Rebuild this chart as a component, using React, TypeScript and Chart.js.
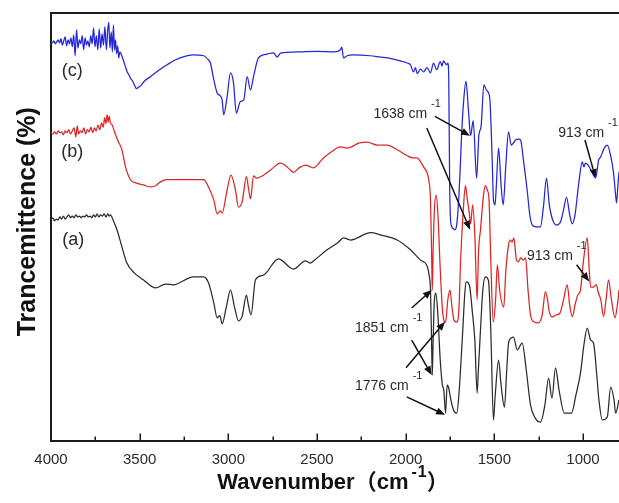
import React, { useEffect, useRef } from 'react';
import { Chart, registerables } from 'chart.js';

Chart.register(...registerables);

// ---- axis data ----
const X_MIN = 797;
const X_MAX = 4000;
const X_TICKS = [4000, 3500, 3000, 2500, 2000, 1500, 1000];
const X_MINOR_TICKS = [3750, 3250, 2750, 2250, 1750, 1250];
const Y_MIN = 0;
const Y_MAX = 100;

// ---- spectra: [wavenumber (cm-1), transmittance (offset, a.u.)] ----
const SERIES_C: [number, number][] = [
  [4000, 93.2], [3992, 93.0], [3984, 93.5], [3976, 92.8], [3968, 93.2], [3960, 93.7], [3952, 93.0], [3944, 94.0],
  [3936, 92.5], [3928, 93.5], [3920, 94.4], [3912, 92.3], [3904, 93.7], [3896, 92.8], [3888, 94.2], [3880, 92.1],
  [3872, 94.9], [3864, 90.0], [3856, 96.1], [3848, 91.8], [3840, 93.7], [3832, 92.8], [3824, 94.7], [3816, 91.4],
  [3808, 94.2], [3800, 92.5], [3792, 93.5], [3784, 92.1], [3776, 94.7], [3768, 92.8], [3760, 96.5], [3752, 92.1],
  [3744, 94.7], [3736, 91.4], [3728, 96.3], [3720, 91.8], [3712, 95.1], [3704, 92.5], [3696, 96.8], [3688, 91.4],
  [3680, 96.1], [3674, 97.8], [3668, 91.8], [3660, 95.6], [3654, 90.9], [3648, 97.2], [3642, 91.4], [3636, 93.7],
  [3630, 90.5], [3624, 92.3], [3618, 89.5], [3612, 90.9], [3600, 89.9], [3590, 88.7], [3580, 87.4], [3570, 86.2],
  [3560, 85.5], [3550, 84.6], [3540, 84.1], [3530, 83.2], [3518, 82.3], [3505, 82.7], [3496, 82.9], [3470, 84.2],
  [3439, 85.1], [3400, 86.4], [3345, 87.9], [3300, 89.0], [3250, 89.8], [3200, 90.2], [3139, 90.0], [3112, 89.0],
  [3101, 88.3], [3082, 84.4], [3063, 81.3], [3045, 80.6], [3035, 79.7], [3026, 76.2], [3007, 80.4], [2988, 86.0],
  [2971, 83.7], [2955, 76.6], [2932, 79.3], [2913, 79.7], [2894, 85.1], [2875, 82.0], [2858, 85.1], [2830, 89.5],
  [2781, 90.4], [2745, 90.7], [2725, 89.7], [2706, 90.6], [2600, 90.9], [2500, 91.0], [2400, 90.9], [2368, 91.4],
  [2360, 92.0], [2351, 89.5], [2330, 90.0], [2300, 90.2], [2200, 90.0], [2142, 89.7], [2100, 89.5], [2048, 89.0],
  [2012, 88.6], [1991, 88.3], [1973, 87.9], [1956, 86.2], [1945, 87.2], [1935, 85.8], [1916, 86.9], [1899, 86.2],
  [1880, 87.2], [1860, 86.0], [1843, 88.3], [1825, 86.7], [1805, 88.6], [1795, 87.6], [1787, 88.8], [1770, 87.9],
  [1762, 88.3], [1757, 84.4], [1752, 60.0], [1748, 52.5], [1740, 50.0], [1730, 49.5], [1722, 49.3], [1712, 50.5],
  [1700, 57.0], [1690, 66.0], [1684, 72.0], [1672, 80.0], [1660, 84.0], [1646, 77.3], [1634, 71.3], [1619, 74.8],
  [1600, 61.4], [1587, 71.5], [1575, 73.4], [1559, 83.2], [1545, 82.0], [1535, 81.5], [1525, 79.7], [1512, 65.6],
  [1505, 56.3], [1496, 55.1], [1490, 58.6], [1476, 68.4], [1462, 59.8], [1450, 55.1], [1435, 64.5], [1420, 72.2],
  [1405, 69.1], [1392, 69.6], [1381, 70.3], [1365, 70.5], [1352, 70.3], [1336, 65.6], [1315, 58.6], [1300, 52.8],
  [1286, 50.4], [1265, 50.0], [1240, 50.0], [1222, 55.1], [1206, 61.4], [1190, 55.1], [1173, 51.8], [1150, 50.4],
  [1127, 51.1], [1110, 53.9], [1093, 56.9], [1075, 52.8], [1061, 50.7], [1045, 52.8], [1025, 59.8], [1004, 65.2],
  [995, 64.0], [986, 64.9], [969, 64.3], [950, 62.8], [929, 61.4], [912, 65.6], [901, 66.3], [880, 68.4],
  [863, 69.1], [845, 66.8], [828, 62.6], [816, 57.4], [811, 55.6], [803, 59.8], [797, 62.8],
];

const SERIES_B: [number, number][] = [
  [4000, 72.0], [3990, 71.7], [3980, 72.2], [3970, 71.7], [3960, 72.4], [3950, 72.0], [3940, 72.2], [3930, 71.5],
  [3920, 72.4], [3910, 72.0], [3900, 72.7], [3890, 71.7], [3880, 72.4], [3870, 73.1], [3860, 71.0], [3852, 73.6],
  [3845, 71.7], [3835, 72.4], [3825, 72.0], [3815, 73.1], [3805, 71.7], [3795, 72.7], [3785, 72.2], [3775, 73.3],
  [3765, 72.0], [3755, 73.1], [3745, 72.4], [3735, 73.8], [3725, 72.7], [3715, 74.3], [3705, 73.3], [3698, 75.5],
  [3690, 74.1], [3684, 76.2], [3678, 74.5], [3672, 75.9], [3665, 74.3], [3655, 73.8], [3640, 72.0], [3620, 69.9],
  [3600, 68.0], [3580, 64.0], [3552, 61.0], [3518, 60.2], [3480, 59.8], [3439, 59.3], [3410, 59.6], [3383, 60.5],
  [3345, 61.0], [3300, 61.0], [3200, 61.0], [3139, 61.0], [3112, 59.3], [3082, 56.3], [3063, 53.0], [3045, 53.7],
  [3035, 53.2], [3007, 58.6], [2985, 62.1], [2960, 58.6], [2943, 54.6], [2922, 55.8], [2898, 61.7], [2885, 58.6],
  [2875, 56.5], [2858, 61.9], [2840, 61.4], [2817, 61.7], [2762, 63.3], [2706, 64.9], [2650, 63.3], [2633, 62.7],
  [2600, 63.8], [2565, 64.4], [2537, 64.0], [2520, 63.8], [2464, 66.1], [2420, 67.5], [2368, 68.7], [2330, 68.4],
  [2260, 69.6], [2217, 69.8], [2160, 69.1], [2104, 69.1], [2048, 68.0], [1991, 66.6], [1960, 66.1], [1935, 66.1],
  [1916, 65.2], [1899, 64.0], [1879, 62.6], [1868, 60.5], [1860, 56.3], [1853, 42.2], [1850, 35.2], [1845, 44.6],
  [1838, 53.9], [1828, 57.4], [1818, 52.8], [1805, 40.0], [1790, 29.4], [1775, 27.7], [1762, 33.0], [1750, 35.2],
  [1740, 31.7], [1728, 28.2], [1712, 27.7], [1700, 30.5], [1690, 42.2], [1675, 53.9], [1663, 59.6], [1652, 56.3],
  [1640, 52.8], [1634, 50.7], [1622, 55.1], [1610, 48.1], [1597, 32.9], [1589, 44.3], [1578, 49.3], [1561, 57.4],
  [1550, 59.6], [1540, 58.6], [1530, 56.3], [1520, 42.2], [1506, 27.7], [1493, 32.9], [1483, 41.1], [1470, 35.2],
  [1447, 31.2], [1435, 39.8], [1420, 45.7], [1410, 46.9], [1400, 46.4], [1390, 47.4], [1375, 42.2], [1364, 41.8],
  [1352, 42.7], [1336, 42.2], [1324, 42.7], [1310, 35.2], [1296, 29.4], [1275, 27.7], [1251, 27.5], [1230, 29.4],
  [1212, 34.8], [1200, 32.9], [1190, 30.1], [1173, 28.9], [1150, 29.4], [1130, 29.8], [1110, 32.9], [1089, 36.4],
  [1075, 31.7], [1060, 29.0], [1045, 31.7], [1030, 34.0], [1014, 35.2], [1000, 41.1], [976, 47.4], [965, 40.0],
  [957, 35.9], [940, 35.9], [925, 36.4], [913, 34.5], [900, 33.0], [884, 29.0], [870, 33.0], [856, 37.6],
  [840, 33.0], [820, 28.7], [806, 31.7], [797, 35.2],
];

const SERIES_A: [number, number][] = [
  [4000, 51.6], [3990, 52.1], [3980, 51.4], [3970, 51.8], [3960, 51.6], [3950, 52.3], [3940, 51.8], [3930, 52.5],
  [3920, 51.8], [3910, 52.3], [3900, 52.8], [3890, 52.1], [3880, 52.5], [3870, 52.1], [3860, 52.8], [3850, 52.3],
  [3840, 52.5], [3830, 52.1], [3820, 52.5], [3810, 52.3], [3800, 52.8], [3790, 52.3], [3780, 52.5], [3770, 52.1],
  [3760, 52.8], [3750, 52.3], [3740, 53.0], [3730, 52.3], [3720, 52.8], [3710, 52.5], [3700, 53.0], [3690, 52.3],
  [3680, 53.0], [3672, 52.5], [3665, 52.8], [3650, 51.6], [3628, 49.3], [3600, 45.3], [3572, 41.5], [3535, 39.4],
  [3480, 37.6], [3410, 35.7], [3355, 36.6], [3310, 36.4], [3197, 38.3], [3139, 38.3], [3112, 36.9], [3082, 32.2],
  [3063, 28.7], [3048, 29.2], [3035, 27.3], [3010, 31.5], [2988, 35.2], [2965, 31.2], [2943, 28.0], [2922, 29.1],
  [2898, 34.0], [2887, 31.7], [2872, 29.4], [2847, 37.6], [2802, 38.7], [2717, 42.5], [2650, 40.4], [2633, 40.1],
  [2565, 42.0], [2537, 41.5], [2520, 42.0], [2443, 44.6], [2379, 46.4], [2351, 47.4], [2311, 46.9], [2198, 48.6],
  [2142, 48.1], [2048, 46.9], [1973, 44.6], [1916, 42.2], [1879, 40.8], [1868, 38.7], [1860, 35.2], [1854, 23.5],
  [1850, 15.3], [1845, 23.5], [1838, 32.9], [1830, 34.5], [1820, 30.5], [1805, 18.8], [1793, 13.0], [1785, 11.8],
  [1775, 6.4], [1766, 13.0], [1758, 12.4], [1745, 9.5], [1730, 7.1], [1712, 6.4], [1700, 10.6], [1681, 23.5],
  [1665, 35.2], [1657, 37.1], [1640, 36.2], [1625, 30.5], [1610, 23.5], [1597, 11.1], [1590, 16.5], [1578, 25.9],
  [1565, 35.2], [1550, 38.3], [1533, 37.4], [1520, 25.9], [1505, 4.8], [1495, 10.6], [1476, 18.8], [1462, 13.0],
  [1443, 7.8], [1430, 16.5], [1420, 22.8], [1405, 24.0], [1392, 24.2], [1371, 21.2], [1343, 22.8], [1320, 16.5],
  [1296, 8.3], [1270, 5.3], [1240, 4.3], [1215, 8.3], [1194, 14.6], [1175, 9.9], [1155, 17.0], [1135, 11.8],
  [1105, 6.4], [1065, 6.4], [1040, 10.6], [1014, 15.8], [995, 22.3], [976, 26.3], [957, 23.5], [941, 22.8],
  [920, 14.2], [912, 10.2], [891, 4.8], [863, 5.5], [844, 12.5], [825, 9.5], [816, 6.4], [797, 9.5],
];

// ---- annotation text & anchors (data coordinates) ----
const CURVE_LABELS = [
  { text: '(c)', w: 3880, t: 86.5 },
  { text: '(b)', w: 3880, t: 67.5 },
  { text: '(a)', w: 3875, t: 46.9 },
];
const PEAK_LABELS = [
  { text: '1638 cm', sup: '-1', w: 2182, t: 75.4 },
  { text: '913 cm', sup: '-1', w: 1140, t: 71.0 },
  { text: '913 cm', sup: '-1', w: 1316, t: 42.2 },
  { text: '1851 cm', sup: '-1', w: 2286, t: 25.4 },
  { text: '1776 cm', sup: '-1', w: 2286, t: 11.8 },
];
// [fromW, fromT, toW, toT]
const ARROWS: [number, number, number, number][] = [
  [1835, 75.8, 1637, 71.3],
  [1881, 73.1, 1637, 49.3],
  [989, 70.3, 929, 61.4],
  [1036, 41.1, 965, 37.2],
  [1966, 31.0, 1853, 35.2],
  [1998, 17.0, 1778, 27.8],
  [1966, 23.5, 1853, 15.3],
  [1994, 10.2, 1778, 6.0],
];

const X_TITLE = 'Wavenumber';
const X_TITLE_UNIT = 'cm';
const Y_TITLE = 'Trancemittence (%)';

const FONT = '"Liberation Sans", Arial, "Noto Sans CJK SC", sans-serif';
const AXIS_COLOR = '#1c1c1c';
const TEXT_COLOR = '#2a2a2a';

function drawArrow(ctx: CanvasRenderingContext2D, x1: number, y1: number, x2: number, y2: number) {
  const ang = Math.atan2(y2 - y1, x2 - x1);
  const hl = 9;
  const hw = 3.6;
  const bx = x2 - hl * Math.cos(ang);
  const by = y2 - hl * Math.sin(ang);
  ctx.beginPath();
  ctx.moveTo(x1, y1);
  ctx.lineTo(bx, by);
  ctx.stroke();
  ctx.beginPath();
  ctx.moveTo(x2, y2);
  ctx.lineTo(bx + hw * Math.sin(ang), by - hw * Math.cos(ang));
  ctx.lineTo(bx - hw * Math.sin(ang), by + hw * Math.cos(ang));
  ctx.closePath();
  ctx.fill();
}

const decorPlugin = {
  id: 'decor',
  afterDraw(chart: any) {
    const { ctx, chartArea: ca, scales } = chart;
    const xs = scales.x;
    const ys = scales.y;
    ctx.save();

    // top frame line
    ctx.strokeStyle = AXIS_COLOR;
    ctx.lineWidth = 2;
    ctx.beginPath();
    ctx.moveTo(ca.left - 1, ca.top);
    ctx.lineTo(ca.right + 2, ca.top);
    ctx.stroke();

    // inward ticks on bottom axis
    ctx.lineWidth = 1.5;
    const drawTick = (v: number, len: number) => {
      const px = Math.round(xs.getPixelForValue(v)) + 0.25;
      ctx.beginPath();
      ctx.moveTo(px, ca.bottom);
      ctx.lineTo(px, ca.bottom - len);
      ctx.stroke();
    };
    X_TICKS.forEach((v) => drawTick(v, 7));
    X_MINOR_TICKS.forEach((v) => drawTick(v, 4));

    // curve labels
    ctx.fillStyle = TEXT_COLOR;
    ctx.font = `18px ${FONT}`;
    ctx.textAlign = 'center';
    ctx.textBaseline = 'middle';
    CURVE_LABELS.forEach((l) => {
      ctx.fillText(l.text, xs.getPixelForValue(l.w), ys.getPixelForValue(l.t));
    });

    // peak labels
    ctx.textAlign = 'left';
    ctx.textBaseline = 'alphabetic';
    PEAK_LABELS.forEach((l) => {
      const px = xs.getPixelForValue(l.w);
      const py = ys.getPixelForValue(l.t);
      ctx.font = `14px ${FONT}`;
      ctx.fillText(l.text, px, py);
      const wd = ctx.measureText(l.text).width;
      ctx.font = `11px ${FONT}`;
      ctx.fillText(l.sup, px + wd + 4, py - 11);
    });

    // arrows
    ctx.strokeStyle = '#111';
    ctx.fillStyle = '#111';
    ctx.lineWidth = 1.5;
    ARROWS.forEach(([w1, t1, w2, t2]) => {
      drawArrow(ctx, xs.getPixelForValue(w1), ys.getPixelForValue(t1), xs.getPixelForValue(w2), ys.getPixelForValue(t2));
    });

    // x axis title with superscript
    ctx.fillStyle = '#111';
    const cx = (ca.left + ca.right) / 2 - 2;
    const base = 489;
    const bigFont = `bold 22px ${FONT}`;
    const supFont = `bold 16px ${FONT}`;
    ctx.font = bigFont;
    const p1 = X_TITLE + '\uFF08' + X_TITLE_UNIT;
    const w1 = ctx.measureText(p1).width;
    const p3 = '\uFF09';
    const w3 = ctx.measureText(p3).width;
    ctx.font = supFont;
    const p2 = '-1';
    const w2 = ctx.measureText(p2).width + 1;
    const total = w1 + 3 + w2 + w3;
    let x0 = cx - total / 2;
    ctx.font = bigFont;
    ctx.fillText(p1, x0, base);
    x0 += w1 + 3;
    ctx.font = supFont;
    ctx.fillText('-', x0, base - 12);
    ctx.fillText('1', x0 + ctx.measureText('-').width + 1, base - 12);
    x0 += w2;
    ctx.font = bigFont;
    ctx.fillText(p3, x0, base);

    // y axis title
    ctx.save();
    ctx.translate(35, (ca.top + ca.bottom) / 2 - 5);
    ctx.rotate(-Math.PI / 2);
    ctx.font = `bold 25px ${FONT}`;
    ctx.textAlign = 'center';
    ctx.textBaseline = 'alphabetic';
    ctx.fillText(Y_TITLE, 0, 0);
    ctx.restore();

    ctx.restore();
  },
};

const toPoints = (s: [number, number][]) => s.map(([x, y]) => ({ x, y }));

const lineStyle = {
  borderWidth: 1.25,
  pointRadius: 0,
  cubicInterpolationMode: 'monotone',
  fill: false,
};

export default function App() {
  const ref = useRef<HTMLCanvasElement | null>(null);

  useEffect(() => {
    if (!ref.current) return;
    const chart = new Chart(ref.current, {
      type: 'line',
      data: {
        datasets: [
          { label: '(a)', data: toPoints(SERIES_A), borderColor: '#2b2b2b', ...lineStyle },
          { label: '(b)', data: toPoints(SERIES_B), borderColor: '#e02424', ...lineStyle },
          { label: '(c)', data: toPoints(SERIES_C), borderColor: '#2424d8', ...lineStyle },
        ],
      },
      options: {
        responsive: false,
        devicePixelRatio: 1,
        animation: false,
        events: [],
        layout: { padding: { left: 0, right: 0, top: 13, bottom: 0 } },
        plugins: { legend: { display: false }, tooltip: { enabled: false }, title: { display: false } },
        scales: {
          x: {
            type: 'linear',
            min: X_MIN,
            max: X_MAX,
            reverse: true,
            afterBuildTicks: (s: any) => {
              s.ticks = X_TICKS.map((v) => ({ value: v }));
            },
            afterFit: (s: any) => {
              s.height = 62.5;
            },
            grid: { display: false, drawTicks: false },
            border: { display: true, color: AXIS_COLOR, width: 2 },
            ticks: {
              autoSkip: false,
              maxRotation: 0,
              padding: 10,
              color: TEXT_COLOR,
              font: { family: FONT, size: 15 },
              callback: (v: any) => String(v),
            },
          },
          y: {
            type: 'linear',
            min: Y_MIN,
            max: Y_MAX,
            afterFit: (s: any) => {
              s.width = 51;
            },
            grid: { display: false, drawTicks: false },
            border: { display: true, color: AXIS_COLOR, width: 2 },
            ticks: { display: false },
          },
        },
      },
      plugins: [decorPlugin],
    } as any);
    return () => chart.destroy();
  }, []);

  return (
    <div style={{ position: 'fixed', left: 0, top: 0, width: 619, height: 503, background: '#fff' }}>
      <canvas ref={ref} width={619} height={503} style={{ display: 'block', width: 619, height: 503 }} />
    </div>
  );
}
